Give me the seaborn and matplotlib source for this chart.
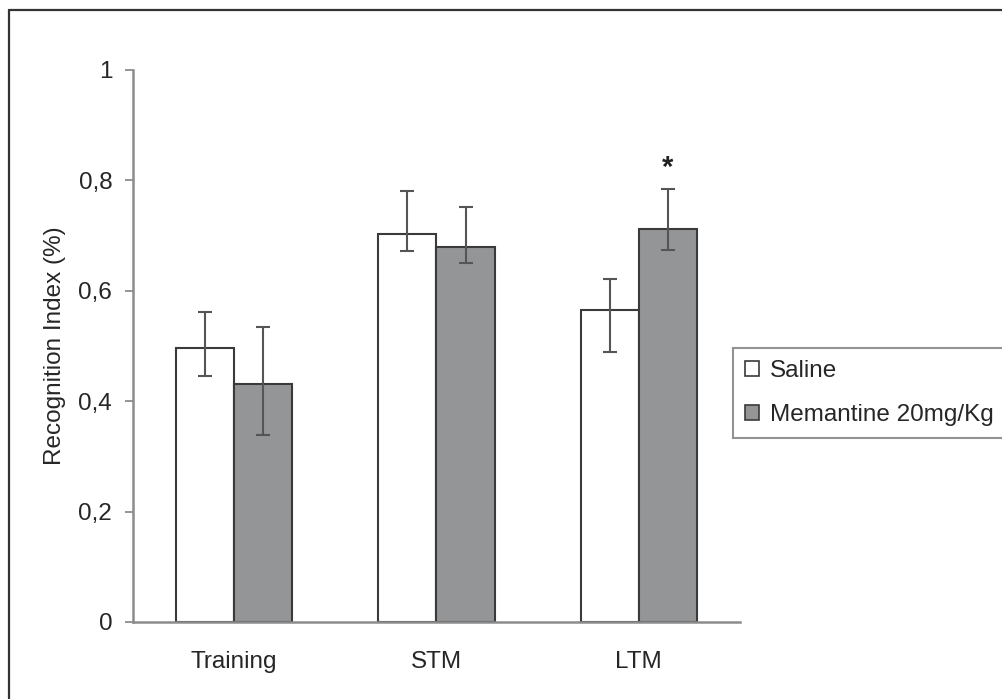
import pandas as pd
import matplotlib
matplotlib.use("Agg")
import matplotlib.pyplot as plt
import seaborn as sns
from matplotlib.lines import Line2D

# valores
phases = ["Training", "STM", "LTM"]
groups = ["Saline", "Memantine 20mg/Kg"]
saline = [0.496, 0.702, 0.566]
saline_lo = [0.446, 0.673, 0.490]
saline_hi = [0.561, 0.780, 0.621]
memantine = [0.432, 0.680, 0.712]
memantine_lo = [0.338, 0.651, 0.674]
memantine_hi = [0.535, 0.752, 0.785]
yticks = [0, 0.2, 0.4, 0.6, 0.8, 1]
ytick_labels = ["0", "0,2", "0,4", "0,6", "0,8", "1"]

df = pd.DataFrame({
    "phase": phases * 2,
    "group": [groups[0]] * 3 + [groups[1]] * 3,
    "ri": saline + memantine,
})

sns.set_style("white")
plt.rcParams["font.family"] = ["Liberation Sans", "DejaVu Sans"]
plt.rcParams["font.size"] = 17.5

fig = plt.figure(figsize=(10.03, 6.99), dpi=100)
ax = fig.add_axes([133 / 1003, 1 - 622 / 699, (740 - 133) / 1003, (622 - 70) / 699])

sns.barplot(data=df, x="phase", y="ri", hue="group", order=phases, hue_order=groups,
            palette=["white", "#939598"], edgecolor="#3a3a3a", linewidth=1.5,
            width=0.574, errorbar=None, ax=ax)

# barras de erro
bounds = [(saline, saline_lo, saline_hi), (memantine, memantine_lo, memantine_hi)]
for cont, (m, lo, hi) in zip(ax.containers, bounds):
    xs = [b.get_x() + b.get_width() / 2 for b in cont]
    yerr = [[a - b for a, b in zip(m, lo)], [b - a for a, b in zip(m, hi)]]
    ax.errorbar(xs, m, yerr=yerr, fmt="none", ecolor="#555555", elinewidth=1.5,
                capsize=5, capthick=1.5, zorder=5)

# asterisco
lt = ax.containers[1][2]
ax.text(lt.get_x() + lt.get_width() / 2, memantine_hi[2] + 0.012, "*",
        ha="center", va="bottom", fontsize=21, fontweight="bold", color="#222222")

ax.set_xlim(-0.5, 2.5)
ax.set_ylim(0, 1)
ax.set_yticks(yticks)
ax.set_yticklabels(ytick_labels)
ax.set_xticks([-0.5, 0.5, 1.5, 2.5], minor=True)
ax.tick_params(axis="x", which="major", length=0, pad=21)
ax.tick_params(axis="x", which="minor", length=6, width=1.3, color="#8c8c8c", direction="out")
ax.tick_params(axis="y", length=6, width=1.3, color="#8c8c8c", direction="out", pad=9, left=True)
ax.set_xlabel("")
ax.set_ylabel("Recognition Index (%)", labelpad=9)

for s in ["top", "right"]:
    ax.spines[s].set_visible(False)
for s in ["left", "bottom"]:
    ax.spines[s].set_color("#8c8c8c")
    ax.spines[s].set_linewidth(1.8)

leg = ax.legend(loc="upper left", bbox_to_anchor=(733 / 1003, 1 - 348 / 699),
                bbox_transform=fig.transFigure, borderaxespad=0, frameon=True,
                fancybox=False, handlelength=0.58, handleheight=0.58,
                handletextpad=0.45, labelspacing=0.89, borderpad=0.5, fontsize=17.5)
leg.get_frame().set_edgecolor("#777777")
leg.get_frame().set_linewidth(1.5)
for h in leg.legend_handles:
    h.set_edgecolor("#3a3a3a")
    h.set_linewidth(1.2)

# moldura da figura
fig.add_artist(Line2D([9 / 1003, 1], [1 - 10 / 699, 1 - 10 / 699], color="#333333", lw=1.6))
fig.add_artist(Line2D([9 / 1003, 9 / 1003], [0, 1 - 10 / 699], color="#333333", lw=1.6))

fig.savefig("out.png", dpi=100)
